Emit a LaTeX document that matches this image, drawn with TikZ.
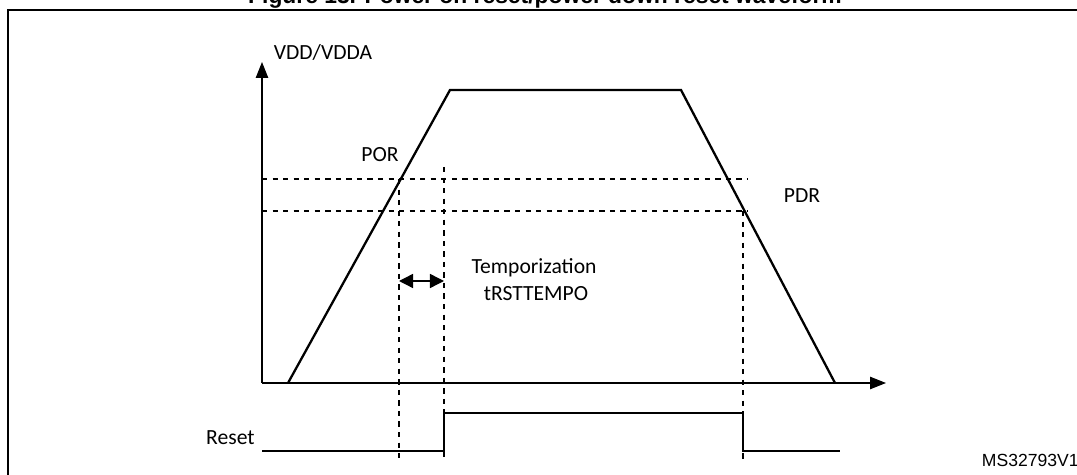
\documentclass[tikz,border=0pt]{standalone}
\usepackage{fontspec}
\setmainfont{Carlito}
\newfontfamily\arialfont{Liberation Sans}
\usetikzlibrary{arrows.meta}

\begin{document}
\begin{tikzpicture}[x=0.02cm,y=-0.02cm,
    every node/.style={inner sep=0pt,font=\fontsize{12.3}{14}\selectfont},
    wave/.style={line width=1.3pt},
    guide/.style={dashed,line width=0.6pt},
    axis/.style={line width=0.6pt,-{Triangle[length=9pt,width=7pt]}}]
  \useasboundingbox (0,0) rectangle (1077,475);
  \clip (0,0) rectangle (1077,475);
  % title and frame
  \node[anchor=base,font=\arialfont\bfseries\fontsize{13}{15}\selectfont] (title) at (545,4)
    {Figure 13. Power on reset/power down reset waveform};
  \draw[line width=1pt] (8,10) rectangle (1085,490);
  % axes
  \coordinate (o) at (262,383);
  \coordinate (ytop) at (262,62);
  \coordinate (xend) at (886,383);
  \draw[axis] (o) -- (ytop);
  \draw[axis] (o) -- (xend);
  \node (vdd) at (323,52) {VDD/VDDA};
  % supply ramp
  \coordinate (r0) at (288,383);
  \coordinate (r1) at (450,90);
  \coordinate (r2) at (681,90);
  \coordinate (r3) at (835,383);
  \draw[wave] (r0) -- (r1) -- (r2) -- (r3);
  % thresholds
  \coordinate (porl) at (262,179);
  \coordinate (porr) at (748,179);
  \coordinate (pdrl) at (262,211);
  \coordinate (pdrr) at (748,211);
  \draw[guide] (porl) -- (porr);
  \draw[guide] (pdrl) -- (pdrr);
  \node (por) at (380,155) {POR};
  \node (pdr) at (802,196) {PDR};
  % time markers
  \coordinate (t1a) at (399,179);  \coordinate (t1b) at (399,461);
  \coordinate (t2a) at (444,167);  \coordinate (t2b) at (444,461);
  \coordinate (t3a) at (743,211);  \coordinate (t3b) at (743,461);
  \draw[guide] (t1a) -- (t1b);
  \draw[guide] (t2a) -- (t2b);
  \draw[guide] (t3a) -- (t3b);
  \coordinate (d1) at (399,281);
  \coordinate (d2) at (444,281);
  \draw[line width=0.8pt,{Triangle[length=8pt,width=8pt]}-{Triangle[length=8pt,width=8pt]}] (d1) -- (d2);
  \node (tempo) at (534,268) {Temporization};
  \node (trst) at (536,294) {tRSTTEMPO};
  % reset signal
  \draw[wave,line width=1pt] (262,451) -- (444,451) -- (444,413) -- (743,413) -- (743,451) -- (840,451);
  \node[anchor=east] (reset) at (255,438) {Reset};
  \node[anchor=east,font=\arialfont\fontsize{10}{12}\selectfont] (ms) at (1079,460) {MS32793V1};
\end{tikzpicture}
\end{document}
